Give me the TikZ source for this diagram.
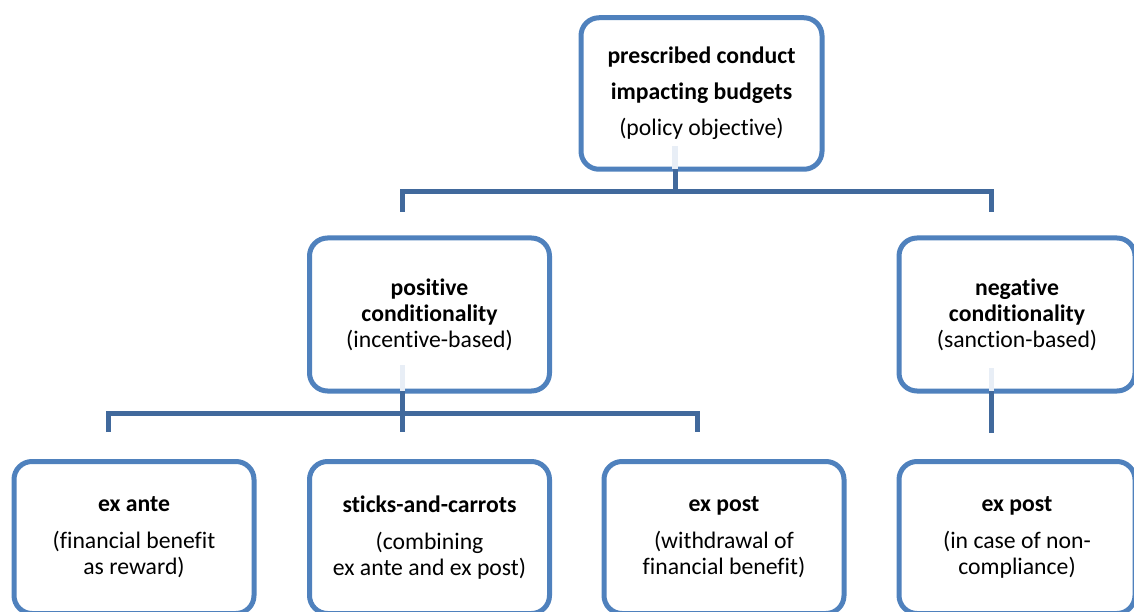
\documentclass[tikz,border=0pt]{standalone}
\usepackage{fontspec}
\setmainfont{Carlito}[Ligatures={NoCommon}]
\usepackage{xcolor}
\usepackage{tikz}
\usetikzlibrary{calc,positioning}
\definecolor{rim}{HTML}{4F81BD}
\definecolor{wire}{HTML}{41699C}
\definecolor{ghost}{HTML}{E8EEF6}
\newcommand{\boxfont}{\fontsize{23.7}{26}\selectfont}
\begin{document}
\begin{tikzpicture}[x=1pt,y=1pt,
  box/.style={draw=rim,fill=white,line width=5pt,rounded corners=18pt,minimum width=240pt,minimum height=153pt,inner sep=0pt,outer sep=0pt,align=center,font=\boxfont},
  wirepath/.style={draw=wire,line width=5pt},
  ghostpath/.style={draw=ghost,line width=5.5pt}]
\useasboundingbox (0,0) rectangle (1134,-612);
\clip (0,0) rectangle (1134,-612);
\node[box,minimum width=241pt,minimum height=151.5pt] (objective) at (701.5,-93.5) {\textbf{prescribed conduct}\\[10pt]\textbf{impacting budgets}\\[10pt](policy objective)};
\node[box] (positive) at (429.5,-314.5) {\textbf{positive}\\\textbf{conditionality}\\(incentive-based)};
\node[box,minimum width=236pt] (negative) at (1017,-314.5) {\textbf{negative}\\\textbf{conditionality}\\(sanction-based)};
\node[box,minimum height=152pt] (exante) at (134,-537.5) {\textbf{ex ante}\\[11pt](financial benefit\\as reward)};
\node[box,minimum height=152pt] (sticks) at (429.5,-537.5) {\textbf{sticks-and-carrots}\\[11pt](combining\\ex ante and ex post)};
\node[box,minimum height=152pt] (expostpos) at (724,-537.5) {\textbf{ex post}\\[11pt](withdrawal of\\financial benefit)};
\node[box,minimum width=236pt,minimum height=152pt] (expostneg) at (1017,-537.5) {\textbf{ex post}\\[11pt](in case of non-\\compliance)};
\coordinate (bus1) at ($(objective.south)+(-26.5,-22)$);
\coordinate (bus2) at ($(positive.south)+(-27,-22.5)$);
\draw[ghostpath] (objective.south -| bus1) -- ++(0,23);
\draw[ghostpath] (positive.south -| bus2) -- ++(0,26);
\draw[ghostpath] ($(negative.south)+(-25.5,0)$) -- ++(0,23);
\draw[wirepath] (objective.south -| bus1) -- (bus1);
\draw[wirepath] ($(positive.north)+(-27,26)$) |- (bus1) -| ($(negative.north)+(-25.5,26)$);
\draw[wirepath] (positive.south -| bus2) -- (bus2);
\draw[wirepath] ($(exante.north)+(-25.5,29.5)$) |- (bus2) -| ($(expostpos.north)+(-27,29.5)$);
\draw[wirepath] (bus2) -- ($(sticks.north)+(-27,29.5)$);
\draw[wirepath] ($(negative.south)+(-25.5,0)$) -- ($(expostneg.north)+(-25.5,28.5)$);
\end{tikzpicture}
\end{document}
